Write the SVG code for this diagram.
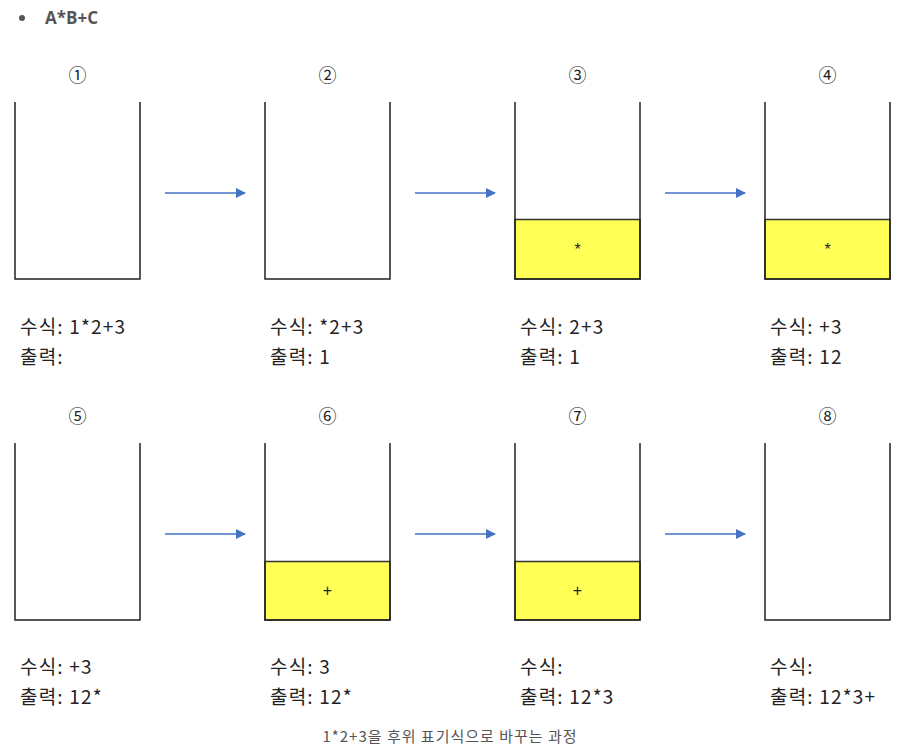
<svg xmlns="http://www.w3.org/2000/svg" width="900" height="750" viewBox="0 0 900 750">
<style>
.t{font-family:"Noto Sans CJK KR","Noto Sans",sans-serif;font-size:19px;letter-spacing:1.2px;fill:#222}
.n{font-family:"Noto Sans CJK KR","DejaVu Sans",sans-serif;font-size:18px;fill:#222;text-anchor:middle}
.s{font-family:"Liberation Sans",sans-serif;font-size:16px;fill:#222;text-anchor:middle}
.box{fill:none;stroke:#222;stroke-width:1.5}
.fill{fill:#FFFF55;stroke:#333;stroke-width:1.5}
.arr{stroke:#4472C4;stroke-width:1.5;fill:none}
</style>
<defs>
<marker id="ah" markerWidth="10" markerHeight="10" refX="9" refY="5" orient="auto" markerUnits="userSpaceOnUse">
<path d="M0,0 L10,5 L0,10 z" fill="#4472C4"/>
</marker>
</defs>
<rect width="900" height="750" fill="#fff"/>
<g id="header">
<circle cx="22" cy="18" r="3" fill="#555"/>
<text x="45" y="24" font-family="'Open Sans','Noto Sans',sans-serif" font-size="17" font-weight="bold" fill="#555">A*B+C</text>
</g>
<g id="s1">
<text class="n" x="77.5" y="82">①</text>
<path class="box" d="M15,102 V279 H140 V102"/>
<text class="t" x="20" y="334">수식: 1*2+3</text>
<text class="t" x="20" y="364">출력:</text>
</g>
<g id="s2">
<text class="n" x="327.5" y="82">②</text>
<path class="box" d="M265,102 V279 H390 V102"/>
<text class="t" x="270" y="334">수식: *2+3</text>
<text class="t" x="270" y="364">출력: 1</text>
</g>
<g id="s3">
<text class="n" x="577.5" y="82">③</text>
<rect class="fill" x="515" y="219.5" width="125" height="59.5"/>
<text class="s" x="577.5" y="255">*</text>
<path class="box" d="M515,102 V279 H640 V102"/>
<text class="t" x="520" y="334">수식: 2+3</text>
<text class="t" x="520" y="364">출력: 1</text>
</g>
<g id="s4">
<text class="n" x="827.5" y="82">④</text>
<rect class="fill" x="765" y="219.5" width="125" height="59.5"/>
<text class="s" x="827.5" y="255">*</text>
<path class="box" d="M765,102 V279 H890 V102"/>
<text class="t" x="770" y="334">수식: +3</text>
<text class="t" x="770" y="364">출력: 12</text>
</g>
<g id="s5">
<text class="n" x="77.5" y="423">⑤</text>
<path class="box" d="M15,443 V620 H140 V443"/>
<text class="t" x="20" y="674">수식: +3</text>
<text class="t" x="20" y="704">출력: 12*</text>
</g>
<g id="s6">
<text class="n" x="327.5" y="423">⑥</text>
<rect class="fill" x="265" y="561.5" width="125" height="58.5"/>
<text class="s" x="327.5" y="596">+</text>
<path class="box" d="M265,443 V620 H390 V443"/>
<text class="t" x="270" y="674">수식: 3</text>
<text class="t" x="270" y="704">출력: 12*</text>
</g>
<g id="s7">
<text class="n" x="577.5" y="423">⑦</text>
<rect class="fill" x="515" y="561.5" width="125" height="58.5"/>
<text class="s" x="577.5" y="596">+</text>
<path class="box" d="M515,443 V620 H640 V443"/>
<text class="t" x="520" y="674">수식:</text>
<text class="t" x="520" y="704">출력: 12*3</text>
</g>
<g id="s8">
<text class="n" x="827.5" y="423">⑧</text>
<path class="box" d="M765,443 V620 H890 V443"/>
<text class="t" x="770" y="674">수식:</text>
<text class="t" x="770" y="704">출력: 12*3+</text>
</g>
<g id="connectors">
<line class="arr" x1="165" y1="193" x2="245" y2="193" marker-end="url(#ah)"/>
<line class="arr" x1="415" y1="193" x2="495" y2="193" marker-end="url(#ah)"/>
<line class="arr" x1="665" y1="193" x2="745" y2="193" marker-end="url(#ah)"/>
<line class="arr" x1="165" y1="534" x2="245" y2="534" marker-end="url(#ah)"/>
<line class="arr" x1="415" y1="534" x2="495" y2="534" marker-end="url(#ah)"/>
<line class="arr" x1="665" y1="534" x2="745" y2="534" marker-end="url(#ah)"/>
</g>
<text x="450" y="742" text-anchor="middle" font-family="'Noto Sans CJK KR',sans-serif" font-size="15" letter-spacing="1" fill="#555">1*2+3을 후위 표기식으로 바꾸는 과정</text>
</svg>
